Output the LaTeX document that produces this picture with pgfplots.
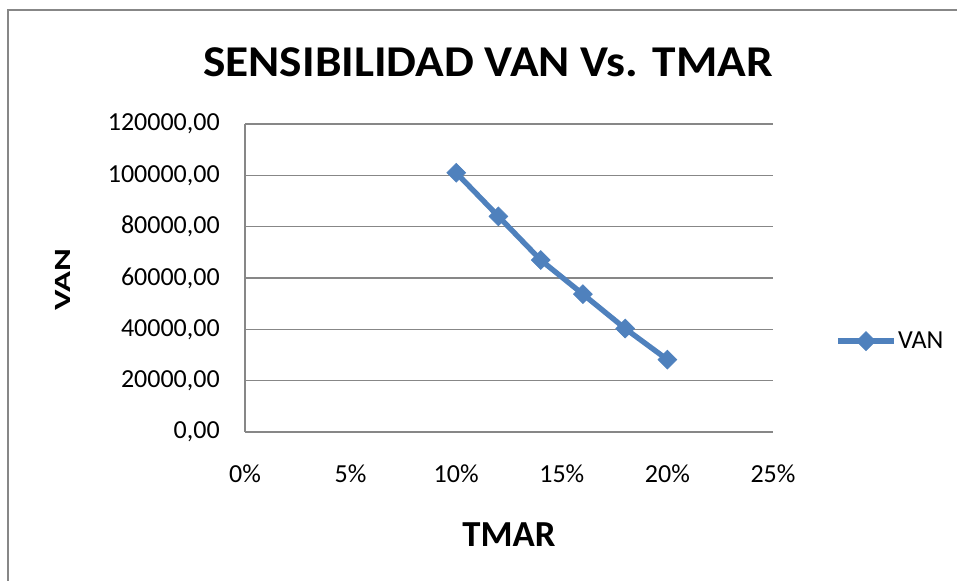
\documentclass[border=0pt]{standalone}
\usepackage{fontspec}
\setmainfont{Carlito}
\usepackage{pgfplots}
\pgfplotsset{compat=1.18}
\definecolor{exblue}{HTML}{4F81BD}
\definecolor{gridgray}{HTML}{878787}
\begin{document}
\begin{tikzpicture}
\path[use as bounding box] (0pt,0pt) rectangle (717.75pt,435.75pt);
\draw[gridgray,line width=1pt] (6pt,-7.5pt) rectangle (727.5pt,428.25pt);
\node[font=\fontsize{33}{36}\selectfont\bfseries,inner sep=0pt] at (366pt,388.9pt) {\scalebox{1.076}[1]{SENSIBILIDAD VAN Vs. TMAR}};
\node[font=\fontsize{26}{28}\selectfont\bfseries,rotate=90,inner sep=0pt] at (47.25pt,226.1pt) {\scalebox{1}[0.67]{VAN}};
\node[font=\fontsize{27.5}{30}\selectfont\bfseries,inner sep=0pt] at (381.75pt,34.7pt) {TMAR};
\begin{axis}[
  at={(183.75pt,111.75pt)}, anchor=south west,
  scale only axis, width=396pt, height=231pt,
  xmin=0, xmax=25, ymin=0, ymax=120000,
  xtick={0,5,10,15,20,25},
  xticklabels={0\%,5\%,10\%,15\%,20\%,25\%},
  ytick={0,20000,40000,60000,80000,100000,120000},
  yticklabels={{0,00},{20000,00},{40000,00},{60000,00},{80000,00},{100000,00},{120000,00}},
  scaled y ticks=false,
  /pgf/number format/assume math mode=true,
  ymajorgrids, grid style={gridgray,line width=0.8pt},
  axis lines*=left,
  axis line style={gridgray,line width=0.8pt,-},
  major tick length=0pt,
  tick label style={font=\fontsize{19.5}{22}\selectfont,black,inner sep=0pt},
  yticklabel style={anchor=east,xshift=-18.75pt},
  xticklabel style={anchor=center,yshift=-31.5pt},
  clip=false,
  legend style={at={(1.1174,0.295)},anchor=west,draw=none,fill=none,inner sep=0pt,
    font=\fontsize{19.5}{22}\selectfont, nodes={inner sep=1pt}},
  legend cell align=left,
  legend image code/.code={
    \draw[#1,mark repeat=2,mark phase=2] plot coordinates {(0cm,0cm) (0.74cm,0cm) (1.48cm,0cm)};
  },
]
\addplot[exblue, line width=4pt, mark=square*, mark size=5pt, mark options={rotate=45,solid,fill=exblue,draw=exblue,line width=0.5pt}]
  coordinates {(10,101000) (12,84000) (14,67000) (16,53700) (18,40300) (20,28200)};
\addlegendentry{VAN}
\end{axis}
\end{tikzpicture}
\end{document}
